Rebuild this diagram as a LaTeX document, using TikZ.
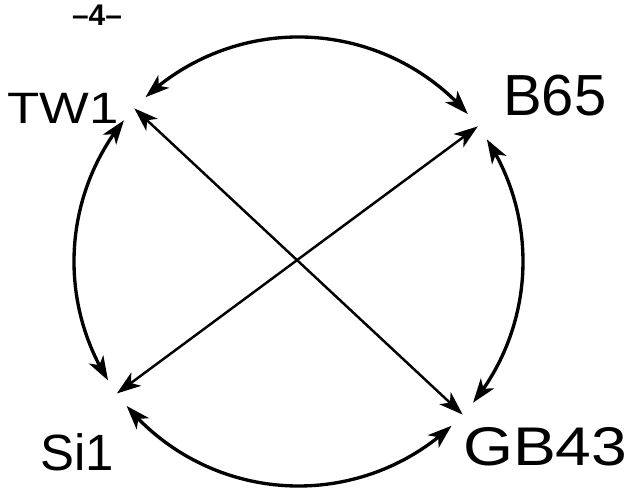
\documentclass[tikz,border=0pt]{standalone}
\usepackage{fontspec}
\setmainfont{Liberation Sans}
\usetikzlibrary{arrows.meta,bending,positioning}
\tikzset{>={Stealth[length=4.8mm,width=3.3mm,inset=1.3mm]},
  ring/.style={<->,line width=1.9pt,shorten <=9pt,shorten >=9pt},
  chord/.style={<->,line width=1.4pt},
  lbl/.style={inner sep=0pt,font=\fontsize{#1}{#1}\selectfont}}

\begin{document}
\begin{tikzpicture}[x=0.02cm,y=0.02cm]
  \useasboundingbox (-298.5,-227.5) rectangle (333.5,261.5);
  % stations on the ring
  \coordinate (tw) at (137:224.5);
  \coordinate (b65) at (37:224.5);
  \coordinate (gb) at (-43:224.5);
  \coordinate (si) at (216:224.5);
  % ring links
  \draw[ring] (tw) arc[start angle=137,end angle=37,radius=224.5];
  \draw[ring] (b65) arc[start angle=37,end angle=-43,radius=224.5];
  \draw[ring] (gb) arc[start angle=-43,end angle=-144,radius=224.5];
  \draw[ring] (si) arc[start angle=216,end angle=137,radius=224.5];
  % cross links
  \draw[chord] (tw) -- (gb);
  \draw[chord] (b65) -- (si);
  % labels
  \node[lbl=25,left=0.3cm of tw] (twl) {\scalebox{1.2}[1]{TW1}};
  \node[lbl=33,above right=0.2cm and 0.5cm of b65] (b65l) {B65};
  \node[lbl=29,below=0.8cm of si,xshift=-0.8cm] (sil) {Si1};
  \node[lbl=31,below right=0.25cm and 0cm of gb] (gbl) {\scalebox{1.18}[1]{GB43}};
  \node[lbl=17] (pg) at (-201.5,246.5) {\bfseries\textendash4\textendash};
\end{tikzpicture}
\end{document}
